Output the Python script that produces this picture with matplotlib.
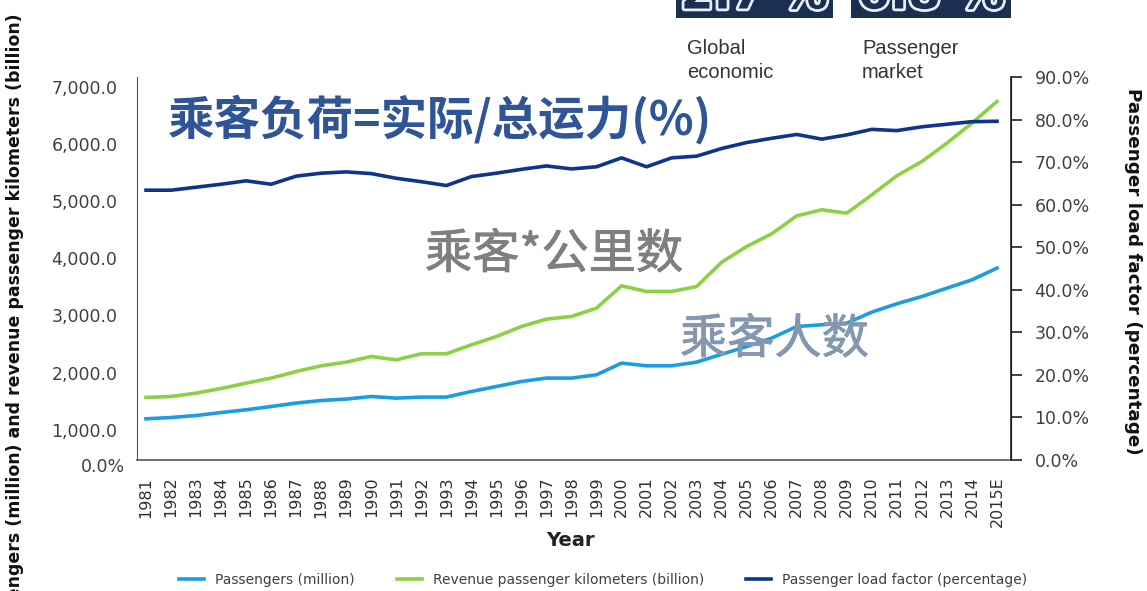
import matplotlib
matplotlib.use('Agg')
import matplotlib.pyplot as plt
from matplotlib.patches import Rectangle
import matplotlib.patheffects as pe

years = [str(y) for y in range(1981, 2015)] + ['2015E']
passengers = [1192, 1215, 1250, 1302, 1350, 1407, 1467, 1512, 1537, 1582,
              1554, 1572, 1572, 1670, 1757, 1845, 1904, 1904, 1962, 2166,
              2119, 2119, 2183, 2320, 2456, 2603, 2806, 2836, 2865, 3058,
              3203, 3331, 3477, 3622, 3827]
rpk = [1565, 1582, 1641, 1722, 1816, 1904, 2019, 2119, 2183, 2282,
       2224, 2329, 2329, 2486, 2631, 2806, 2935, 2981, 3128, 3517,
       3418, 3418, 3505, 3930, 4205, 4427, 4741, 4846, 4788, 5108,
       5441, 5691, 6012, 6362, 6740]
load_factor = [63.4, 63.4, 64.1, 64.8, 65.6, 64.8, 66.7, 67.4, 67.7, 67.3,
               66.2, 65.4, 64.5, 66.6, 67.4, 68.3, 69.1, 68.4, 68.9, 71.0,
               68.9, 71.0, 71.4, 73.2, 74.6, 75.6, 76.5, 75.4, 76.4, 77.7,
               77.4, 78.3, 78.9, 79.5, 79.6]
left_ticks = [1000, 2000, 3000, 4000, 5000, 6000, 7000]
right_ticks = [0, 10, 20, 30, 40, 50, 60, 70, 80, 90]

W, H = 1147, 591
c_pass = '#1c9de2'
c_rpk = '#8cd043'
c_lf = '#10348c'
txt = '#404040'
cjk = ['Noto Sans CJK SC', 'DejaVu Sans']

fig = plt.figure(figsize=(W / 100, H / 100), dpi=100)
ax = fig.add_axes([137 / W, 1 - 460 / H, (1011 - 137) / W, (460 - 77) / H])
ax2 = ax.twinx()

x = list(range(len(years)))
l1, = ax.plot(x, passengers, color=c_pass, lw=2.6, label='Passengers (million)')
l2, = ax.plot(x, rpk, color=c_rpk, lw=2.6, label='Revenue passenger kilometers (billion)')
l3, = ax2.plot(x, load_factor, color=c_lf, lw=2.6, label='Passenger load factor (percentage)')

ax.set_xlim(-0.36, 34.56)
ax.set_ylim(472, 7168)
ax2.set_ylim(0, 90)

ax.set_yticks(left_ticks)
ax.set_yticklabels([f'{v:,.1f}' for v in left_ticks])
ax.tick_params(axis='y', length=0, pad=14, labelsize=12.5, labelcolor=txt)
ax.set_xticks(x)
ax.set_xticklabels(years, rotation=90)
ax.tick_params(axis='x', length=0, pad=12, labelsize=11.5, labelcolor='#303030')

ax2.set_yticks(right_ticks)
ax2.set_yticklabels([f'{v:.1f}%' for v in right_ticks])
ax2.tick_params(axis='y', length=8, width=1.2, pad=9, labelsize=12.5, labelcolor=txt, color='#222222')

for a in (ax, ax2):
    a.spines['top'].set_visible(False)
ax.spines['left'].set_color('#555555')
ax.spines['bottom'].set_color('#555555')
ax.spines['bottom'].set_linewidth(1.2)
ax2.spines['left'].set_visible(False)
ax2.spines['bottom'].set_visible(False)
ax2.spines['right'].set_color('#222222')
ax2.spines['right'].set_linewidth(1.2)

fig.text(125 / W, 1 - 467 / H, '0.0%', ha='right', va='center', fontsize=12.5, color=txt)
fig.text(570 / W, 1 - 540 / H, 'Year', ha='center', va='center', fontsize=14,
         fontweight='bold', color='#222222')
fig.text(15 / W, 1 - 329 / H, 'Passengers (million) and revenue passenger kilometers (billion)',
         rotation=90, ha='center', va='center', fontsize=12.5, fontweight='bold', color='#111111')
fig.text(1133 / W, 1 - 271 / H, 'Passenger load factor (percentage)',
         rotation=270, ha='center', va='center', fontsize=13.2, fontweight='bold', color='#111111')

fig.legend(handles=[l1, l2, l3], loc='center', bbox_to_anchor=(603 / W, 11 / H), ncol=3,
           frameon=False, fontsize=10, handlelength=1.8, columnspacing=3.0,
           labelcolor=txt)

# overlaid Chinese annotations
fig.text(168 / W, 1 - 120 / H, '乘客负荷=实际/总运力(%)', ha='left', va='center',
         fontsize=33.5, fontweight='bold', color='#2f5597', family=cjk)
t1 = fig.text(425 / W, 1 - 255 / H, '乘客*公里数', ha='left', va='center',
              fontsize=34, color='#7f7f7f', family=cjk)
t2 = fig.text(680 / W, 1 - 340 / H, '乘客人数', ha='left', va='center',
              fontsize=34, color='#8497b0', family=cjk)
for t, c in [(t1, '#7f7f7f'), (t2, '#8497b0')]:
    t.set_path_effects([pe.Stroke(linewidth=0.6, foreground=c), pe.Normal()])

# cropped banner pieces at the top
for bx, bw, label, cap in [(676, 157, '2.7 %', 'Global\neconomic'),
                           (851, 160, '6.8 %', 'Passenger\nmarket')]:
    fig.add_artist(Rectangle((bx / W, 1 - 18 / H), bw / W, 18 / H, transform=fig.transFigure,
                             color='#1b2f52', lw=0))
    t = fig.text((bx + bw / 2) / W, 1 + 4 / H, label, ha='center', va='center',
                 fontsize=34, fontweight='bold', color='#1b2f52')
    t.set_path_effects([pe.Stroke(linewidth=4, foreground='#e8eef5'), pe.Normal()])
    fig.text((bx + 11) / W, 1 - 39 / H, cap, ha='left', va='top', fontsize=14.5,
             color='#333333', family='Liberation Sans', linespacing=1.3)

fig.savefig('out.png', dpi=100)
